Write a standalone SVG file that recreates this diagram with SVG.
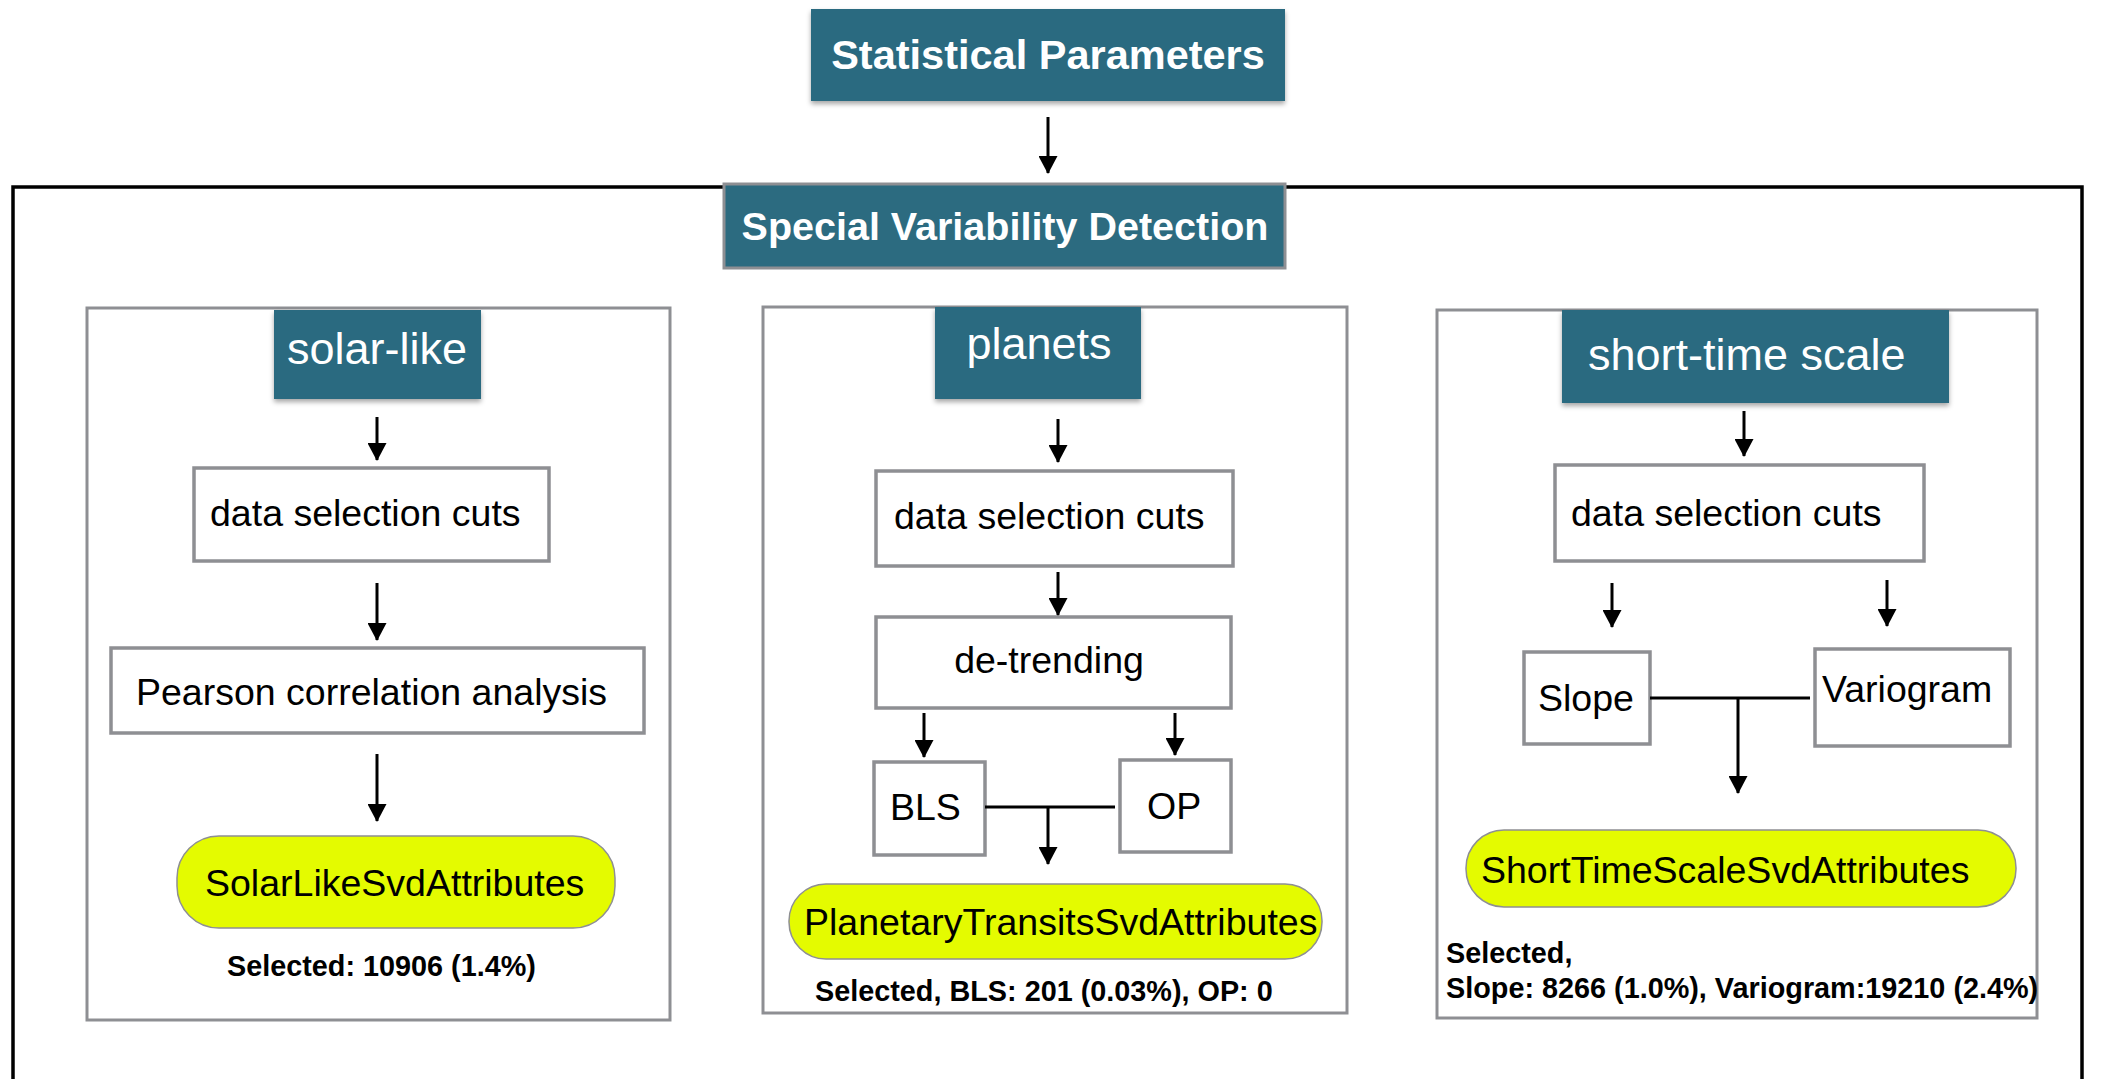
<svg xmlns="http://www.w3.org/2000/svg" width="2103" height="1079" viewBox="0 0 2103 1079">
<defs>
<style>
.hdr{fill:#2c6b80;filter:url(#sh)}
.hdrT{fill:#fff;font-family:"Liberation Sans",Arial,sans-serif;font-size:45px}
.hdrB{fill:#fff;font-family:"Liberation Sans",Arial,sans-serif;font-weight:bold}
.panel{fill:none;stroke:#8e8f93;stroke-width:3}
.box{fill:#fff;stroke:#8e8f93;stroke-width:3.5}
.pill{fill:#e4fb00;stroke:#8e8f93;stroke-width:1.5}
.lbl{fill:#000;font-family:"Liberation Sans",Arial,sans-serif;font-size:37.5px}
.sel{fill:#000;font-family:"Liberation Sans",Arial,sans-serif;font-size:28.8px;font-weight:bold}
.ln{fill:none;stroke:#000;stroke-width:3}
</style>
<filter id="sh" x="-10%" y="-10%" width="120%" height="130%">
<feDropShadow dx="0" dy="3" stdDeviation="2.5" flood-color="#000" flood-opacity="0.35"/>
</filter>
<marker id="ah" markerUnits="userSpaceOnUse" markerWidth="19" markerHeight="19" viewBox="0 0 18 19" refX="17" refY="9.5" orient="auto">
<path d="M0,0 L18,9.5 L0,19 z" fill="#000"/>
</marker>
</defs>
<rect width="2103" height="1079" fill="#fff"/>

<g id="frame">
<path d="M13,1085 V187 H2082 V1085" fill="none" stroke="#000" stroke-width="3.5"/>
</g>

<g id="statistical-parameters">
<rect class="hdr" x="811" y="9" width="474" height="92"/>
<text class="hdrB" x="1048" y="69" text-anchor="middle" font-size="41.5">Statistical Parameters</text>
</g>

<g id="special-variability-detection">
<rect x="724" y="184" width="561" height="84" fill="#2c6b80" stroke="#8e8f93" stroke-width="3"/>
<text class="hdrB" x="1005" y="240" text-anchor="middle" font-size="39.5">Special Variability Detection</text>
</g>

<g id="solar-like-panel">
<rect class="panel" x="87" y="308" width="583" height="712"/>
</g>
<g id="solar-like">
<rect class="hdr" x="274" y="310" width="207" height="89"/>
<text class="hdrT" x="377" y="364" text-anchor="middle">solar-like</text>
</g>
<g id="solar-data-selection">
<rect class="box" x="194" y="468" width="355" height="93"/>
<text class="lbl" x="210" y="526">data selection cuts</text>
</g>
<g id="pearson">
<rect class="box" x="111" y="648" width="533" height="85"/>
<text class="lbl" x="136" y="705">Pearson correlation analysis</text>
</g>
<g id="solar-like-svd">
<rect class="pill" x="177" y="836" width="438" height="92" rx="42"/>
<text class="lbl" x="205" y="896">SolarLikeSvdAttributes</text>
</g>
<g id="solar-selected">
<text class="sel" x="227" y="976">Selected: 10906 (1.4%)</text>
</g>

<g id="planets-panel">
<rect class="panel" x="763" y="307" width="584" height="706"/>
</g>
<g id="planets">
<rect class="hdr" x="935" y="307" width="206" height="92"/>
<text class="hdrT" x="1039" y="359" text-anchor="middle">planets</text>
</g>
<g id="planets-data-selection">
<rect class="box" x="876" y="471" width="357" height="95"/>
<text class="lbl" x="894" y="529">data selection cuts</text>
</g>
<g id="de-trending">
<rect class="box" x="876" y="617" width="355" height="91"/>
<text class="lbl" x="1049" y="673" text-anchor="middle">de-trending</text>
</g>
<g id="bls">
<rect class="box" x="874" y="762" width="111" height="93"/>
<text class="lbl" x="890" y="820">BLS</text>
</g>
<g id="op">
<rect class="box" x="1120" y="760" width="111" height="92"/>
<text class="lbl" x="1147" y="819">OP</text>
</g>
<g id="planetary-transits-svd">
<rect class="pill" x="789" y="884" width="533" height="75" rx="37"/>
<text class="lbl" x="804" y="935">PlanetaryTransitsSvdAttributes</text>
</g>
<g id="planets-selected">
<text class="sel" x="815" y="1001">Selected, BLS: 201 (0.03%), OP: 0</text>
</g>

<g id="short-time-panel">
<rect class="panel" x="1437" y="310" width="600" height="708"/>
</g>
<g id="short-time-scale">
<rect class="hdr" x="1562" y="310" width="387" height="93"/>
<text class="hdrT" x="1588" y="370">short-time scale</text>
</g>
<g id="short-data-selection">
<rect class="box" x="1555" y="465" width="369" height="96"/>
<text class="lbl" x="1571" y="526">data selection cuts</text>
</g>
<g id="slope">
<rect class="box" x="1524" y="652" width="126" height="92"/>
<text class="lbl" x="1538" y="711">Slope</text>
</g>
<g id="variogram">
<rect class="box" x="1815" y="649" width="195" height="97"/>
<text class="lbl" x="1822" y="702">Variogram</text>
</g>
<g id="short-time-scale-svd">
<rect class="pill" x="1466" y="830" width="550" height="77" rx="38"/>
<text class="lbl" x="1481" y="883">ShortTimeScaleSvdAttributes</text>
</g>
<g id="short-selected">
<text class="sel" x="1446" y="963">Selected,</text>
<text class="sel" x="1446" y="998">Slope: 8266 (1.0%), Variogram:19210 (2.4%)</text>
</g>

<g id="connectors">
<line class="ln" x1="1048" y1="117" x2="1048" y2="173" marker-end="url(#ah)"/>
<line class="ln" x1="377" y1="417" x2="377" y2="460" marker-end="url(#ah)"/>
<line class="ln" x1="377" y1="583" x2="377" y2="640" marker-end="url(#ah)"/>
<line class="ln" x1="377" y1="754" x2="377" y2="821" marker-end="url(#ah)"/>
<line class="ln" x1="1058" y1="419" x2="1058" y2="462" marker-end="url(#ah)"/>
<line class="ln" x1="1058" y1="572" x2="1058" y2="615" marker-end="url(#ah)"/>
<line class="ln" x1="924" y1="713" x2="924" y2="757" marker-end="url(#ah)"/>
<line class="ln" x1="1175" y1="713" x2="1175" y2="755" marker-end="url(#ah)"/>
<line class="ln" x1="985" y1="807" x2="1115" y2="807"/>
<line class="ln" x1="1048" y1="807" x2="1048" y2="864" marker-end="url(#ah)"/>
<line class="ln" x1="1744" y1="411" x2="1744" y2="456" marker-end="url(#ah)"/>
<line class="ln" x1="1612" y1="583" x2="1612" y2="627" marker-end="url(#ah)"/>
<line class="ln" x1="1887" y1="580" x2="1887" y2="626" marker-end="url(#ah)"/>
<line class="ln" x1="1650" y1="698" x2="1810" y2="698"/>
<line class="ln" x1="1738" y1="698" x2="1738" y2="793" marker-end="url(#ah)"/>
</g>
</svg>
